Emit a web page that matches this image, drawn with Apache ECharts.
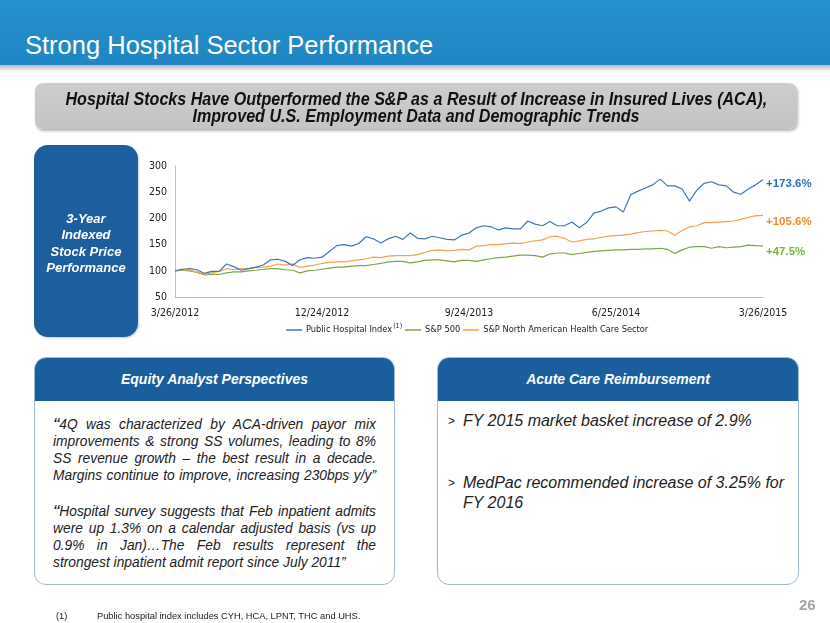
<!DOCTYPE html>
<html>
<head>
<meta charset="utf-8">
<script src="https://cdn.jsdelivr.net/npm/echarts@6/dist/echarts.min.js"></script>
<style>
  html, body { margin:0; padding:0; background:#fff; }
  body { width:830px; height:623px; position:relative; overflow:hidden; font-family:"Liberation Sans", Arial, sans-serif; }
  #chart { position:absolute; left:0; top:0; width:830px; height:623px; z-index:0; }
  .abs { position:absolute; z-index:1; }
  #hdr { left:0; top:0; width:830px; height:65px; background:linear-gradient(#2591cd,#1f86c4); }
  #hdrsh { left:0; top:65px; width:830px; height:7px; background:linear-gradient(rgba(0,0,0,0.28),rgba(0,0,0,0)); }
  #title { left:25px; top:30px; font-size:25.5px; line-height:30px; color:#fff; }
  #sub { left:35px; top:83px; width:762px; height:46px; border-radius:8px; background:linear-gradient(#cdcdcd,#c4c4c4); box-shadow:1px 2px 3px rgba(0,0,0,0.3); box-sizing:border-box; padding-top:8px; }
  #subt { text-align:center; font-weight:bold; font-style:italic; font-size:17.5px; line-height:17px; color:#111; transform:scaleX(0.92); transform-origin:50% 50%; white-space:nowrap; }
  #leftbox { left:34px; top:145px; width:104px; height:192px; border-radius:14px; background:#1c5e9e; color:#fff; font-weight:bold; font-style:italic; font-size:13px; line-height:16.4px; text-align:center; box-sizing:border-box; padding-top:66px; box-shadow:1px 1px 2px rgba(0,0,0,0.2); }
  .box { top:357px; height:228px; border:1px solid #9cb9d9; border-radius:12px; box-sizing:border-box; background:#fff; overflow:hidden; }
  .boxh { position:absolute; left:0; top:0; right:0; height:43px; background:#1b5e9d; color:#fff; font-weight:bold; font-style:italic; font-size:14px; line-height:43px; text-align:center; }
  #eq { left:34px; width:361px; }
  #ac { left:437px; width:362px; }
  .ln { position:absolute; left:18px; width:323px; font-style:italic; font-size:13.8px; line-height:17px; color:#222; text-align:justify; text-align-last:justify; }
  .ln.last { text-align-last:left; }
  .q { font-size:19px; line-height:0; position:relative; top:2px; }
  .bl { position:absolute; left:10px; font-size:12px; color:#222; }
  .bt { position:absolute; left:25px; font-style:italic; font-size:16px; line-height:20px; color:#222; }
  #pg { left:799px; top:596px; font-size:15px; font-weight:bold; color:#a6a6a6; }
  #fn1 { left:56px; top:611px; font-size:9.3px; color:#222; }
  #fn2 { left:97px; top:611px; font-size:9.3px; color:#222; }
</style>
</head>
<body>
<div id="chart"></div>
<div class="abs" id="hdr"></div>
<div class="abs" id="hdrsh"></div>
<div class="abs" id="title">Strong Hospital Sector Performance</div>
<div class="abs" id="sub"><div id="subt">Hospital Stocks Have Outperformed the S&amp;P as a Result of Increase in Insured Lives (ACA),<br>Improved U.S. Employment Data and Demographic Trends</div></div>
<div class="abs" id="leftbox">3-Year<br>Indexed<br>Stock Price<br>Performance</div>

<div class="abs box" id="eq">
  <div class="boxh">Equity Analyst Perspectives</div>
  <div class="ln" style="top:58px"><span class="q">“</span>4Q was characterized by ACA-driven payor mix</div>
  <div class="ln" style="top:75px">improvements &amp; strong SS volumes, leading to 8%</div>
  <div class="ln" style="top:92px">SS revenue growth – the best result in a decade.</div>
  <div class="ln" style="top:109px">Margins continue to improve, increasing 230bps y/y”</div>
  <div class="ln" style="top:145px"><span class="q">“</span>Hospital survey suggests that Feb inpatient admits</div>
  <div class="ln" style="top:162px">were up 1.3% on a calendar adjusted basis (vs up</div>
  <div class="ln" style="top:179px">0.9% in Jan)…The Feb results represent the</div>
  <div class="ln last" style="top:196px">strongest inpatient admit report since July 2011”</div>
</div>

<div class="abs box" id="ac">
  <div class="boxh">Acute Care Reimbursement</div>
  <div class="bl" style="top:56px">&gt;</div>
  <div class="bt" style="top:53px">FY 2015 market basket increase of 2.9%</div>
  <div class="bl" style="top:118px">&gt;</div>
  <div class="bt" style="top:115px">MedPac recommended increase of 3.25% for<br>FY 2016</div>
</div>

<div class="abs" id="pg">26</div>
<div class="abs" id="fn1">(1)</div>
<div class="abs" id="fn2">Public hospital index includes CYH, HCA, LPNT, THC and UHS.</div>

<script>
// Tick labels for the x axis (dates every ~9 months)
const tickLabels = ["3/26/2012", "12/24/2012", "9/24/2013", "6/25/2014", "3/26/2015"];
const seriesNames = ["Public Hospital Index", "S&P 500", "S&P North American Health Care Sector"];
const endLabels = ["+173.6%", "+47.5%", "+105.6%"];

const hospital = [100,103,104,102,95,99,99,113,108,101,104,107,111,121,122,118,110,121,125,124,
  126,137,148,150,147,152,165,161,153,161,166,160,172,162,161,166,163,160,159,168,
  172,182,186,184,178,182,180,180,195,189,186,194,186,186,193,182,192,210,214,220,
  222,212,245,252,258,264,275,262,262,256,233,254,267,270,264,262,250,246,256,264,273.6];
const sp500 = [100,101,100,97,92,93,93,96,98,98,100,101,103,104,104,102,101,96,100,101,
  103,105,107,107,109,110,110,112,114,117,118,118,115,117,120,121,121,119,117,120,
  120,118,121,123,125,126,128,130,130,129,126,132,134,134,131,133,135,137,138,139,
  140,140,141,141,142,142,143,141,133,140,145,146,146,143,146,144,145,146,149,148,147.5];
const healthCare = [100,102,101,98,93,96,99,104,102,104,104,106,107,109,113,111,113,106,109,111,
  114,116,117,117,119,121,123,126,125,128,129,129,129,131,135,139,140,138,139,141,
  140,147,148,150,150,152,153,152,155,157,159,165,166,162,155,157,160,161,164,166,
  167,168,170,173,175,176,177,176,168,177,184,186,192,192,193,194,195,198,202,205,205.6];

const colors = ["#3b78b8", "#7aa646", "#f5a04a"];
const labelColors = ["#2f6eb2", "#78b443", "#ef8a2b"];
const labelOffsets = [4, 6, 6];
const condensed = '"DejaVu Sans Condensed","Liberation Sans",Arial,sans-serif';

const chart = echarts.init(document.getElementById('chart'), null, {renderer: 'canvas'});
const values = [hospital, sp500, healthCare];
const series = values.map((arr, k) => ({
  name: seriesNames[k],
  type: 'line',
  data: arr.map((v, i) => [i, v]),
  showSymbol: false,
  symbol: 'none',
  smooth: false,
  lineStyle: { color: colors[k], width: 1.2 },
  itemStyle: { color: colors[k] },
  z: k === 0 ? 3 : (k === 2 ? 2 : 1),
  endLabel: {
    show: true,
    formatter: endLabels[k],
    color: labelColors[k],
    fontWeight: 'bold',
    fontSize: 11.5,
    fontFamily: '"Liberation Sans", Arial, sans-serif',
    distance: 3,
    offset: [0, labelOffsets[k]]
  },
  emphasis: { disabled: true }
}));

chart.setOption({
  animation: false,
  grid: { left: 175, right: 67, top: 166, bottom: 326, containLabel: false, outerBoundsMode: 'none' },
  xAxis: {
    type: 'value', min: 0, max: 80, interval: 20,
    axisLine: { show: true, lineStyle: { color: '#bfbfbf', width: 1 } },
    axisTick: { show: false },
    splitLine: { show: false },
    axisLabel: {
      formatter: v => tickLabels[Math.round(v / 20)] || '',
      color: '#222', fontSize: 10.5, fontFamily: condensed, margin: 11
    }
  },
  yAxis: {
    type: 'value', min: 50, max: 300, interval: 50,
    axisLine: { show: true, lineStyle: { color: '#bfbfbf', width: 1 } },
    axisTick: { show: false },
    splitLine: { show: false },
    axisLabel: { color: '#222', fontSize: 10.5, fontFamily: condensed, margin: 8 }
  },
  legend: {
    left: 281, top: 318,
    icon: 'rect', itemWidth: 16, itemHeight: 1.5, itemGap: 3,
    data: seriesNames,
    formatter: name => name === seriesNames[0] ? '{a|' + name + '}{s|(1)}' : '{a|' + name + '}',
    textStyle: {
      color: '#222', fontSize: 9.2, fontFamily: condensed, padding: [0, 0, 0, -1],
      rich: {
        a: { fontSize: 9.2, fontFamily: condensed, color: '#222' },
        s: { fontSize: 7, fontFamily: condensed, color: '#222', verticalAlign: 'bottom', padding: [0, 0, 7, 1] }
      }
    }
  },
  series: series
});
</script>
</body>
</html>
